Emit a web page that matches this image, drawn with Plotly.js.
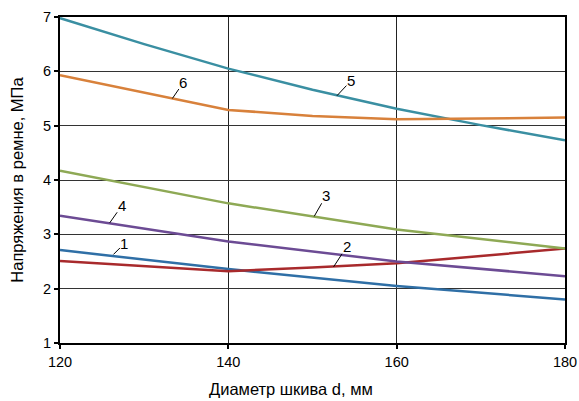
<!DOCTYPE html>
<html><head><meta charset="utf-8">
<script src="https://cdn.plot.ly/plotly-3.0.1.min.js"></script>
<style>html,body{margin:0;padding:0;background:#fff}#c{width:579px;height:401px}</style>
</head><body><div id="c"></div>
<script>
const xTicks = [120, 140, 160, 180];
const yTicks = [1, 2, 3, 4, 5, 6, 7];
const xTitle = "Диаметр шкива d, мм";
const yTitle = "Напряжения в ремне, МПа";

const x1 = [120, 140, 160, 180];
const y1 = [2.71, 2.36, 2.05, 1.80];
const x2 = [120, 130, 140, 150, 160, 170, 180];
const y2 = [2.51, 2.42, 2.32, 2.39, 2.47, 2.60, 2.74];
const x3 = [120, 140, 160, 180];
const y3 = [4.17, 3.57, 3.09, 2.74];
const x4 = [120, 140, 160, 180];
const y4 = [3.34, 2.87, 2.50, 2.23];
const x5 = [120, 130, 140, 150, 160, 170, 180];
const y5 = [6.98, 6.50, 6.05, 5.66, 5.31, 5.01, 4.73];
const x6 = [120, 140, 150, 160, 170, 180];
const y6 = [5.93, 5.29, 5.18, 5.12, 5.13, 5.15];

const curveNames = ["1", "2", "3", "4", "5", "6"];
const colors = ["#2f6fa6", "#a82a2c", "#8ea955", "#6c4b94", "#3a8fa2", "#d8813b"];
// label anchor points on curves (data) and text offsets (px)
const labelX = [126.35, 152.5, 150.2, 125.9, 152.9, 133.35];
const labelY = [2.63, 2.40, 3.33, 3.21, 5.55, 5.50];
const labelAx = [11, 13, 12, 12, 14, 11];
const labelAy = [-11, -20, -21, -17, -15, -16];

const xs = [x1, x2, x3, x4, x5, x6];
const ys = [y1, y2, y3, y4, y5, y6];

const FONT = "Liberation Sans, Arial, sans-serif";

const traces = xs.map((xv, i) => ({
  x: xv, y: ys[i], type: "scatter", mode: "lines", name: curveNames[i],
  line: {color: colors[i], width: 2.5, shape: "linear"}, hoverinfo: "skip"
}));

const annotations = curveNames.map((n, i) => ({
  x: labelX[i], y: labelY[i], xref: "x", yref: "y",
  text: n, showarrow: true, arrowhead: 0, arrowwidth: 1, arrowcolor: "#000",
  ax: labelAx[i], ay: labelAy[i], standoff: 0, startstandoff: 0,
  font: {family: FONT, size: 15, color: "#000"},
  borderpad: 0
}));

annotations.push({
  x: 0.457, y: 0, xref: "paper", yref: "paper", yanchor: "top", xanchor: "center",
  yshift: -35, text: xTitle, showarrow: false,
  font: {family: FONT, size: 16.5, color: "#000"}
});

const layout = {
  width: 579, height: 401,
  margin: {l: 60, r: 14, t: 17, b: 58},
  paper_bgcolor: "#fff", plot_bgcolor: "#fff",
  showlegend: false,
  font: {family: FONT, size: 14, color: "#000"},
  xaxis: {
    range: [120, 180], tickvals: xTicks, ticktext: xTicks.map(String),
    showgrid: true, gridcolor: "#222", gridwidth: 1,
    showline: true, linecolor: "#000", linewidth: 2, mirror: true,
    ticks: "outside", ticklen: 4, tickcolor: "#000", tickwidth: 2,
    ticklabelstandoff: 1,
    zeroline: false, fixedrange: true,
    tickfont: {size: 14.5}
  },
  yaxis: {
    range: [1, 7], tickvals: yTicks, ticktext: yTicks.map(String),
    showgrid: true, gridcolor: "#333", gridwidth: 1,
    showline: true, linecolor: "#000", linewidth: 2, mirror: true,
    ticks: "outside", ticklen: 4, tickcolor: "#000", tickwidth: 2,
    zeroline: false, fixedrange: true,
    tickfont: {size: 14.5},
    title: {text: yTitle, font: {size: 16.5}, standoff: 15}
  },
  annotations: annotations
};

Plotly.newPlot("c", traces, layout, {displayModeBar: false, staticPlot: true});
</script></body></html>
